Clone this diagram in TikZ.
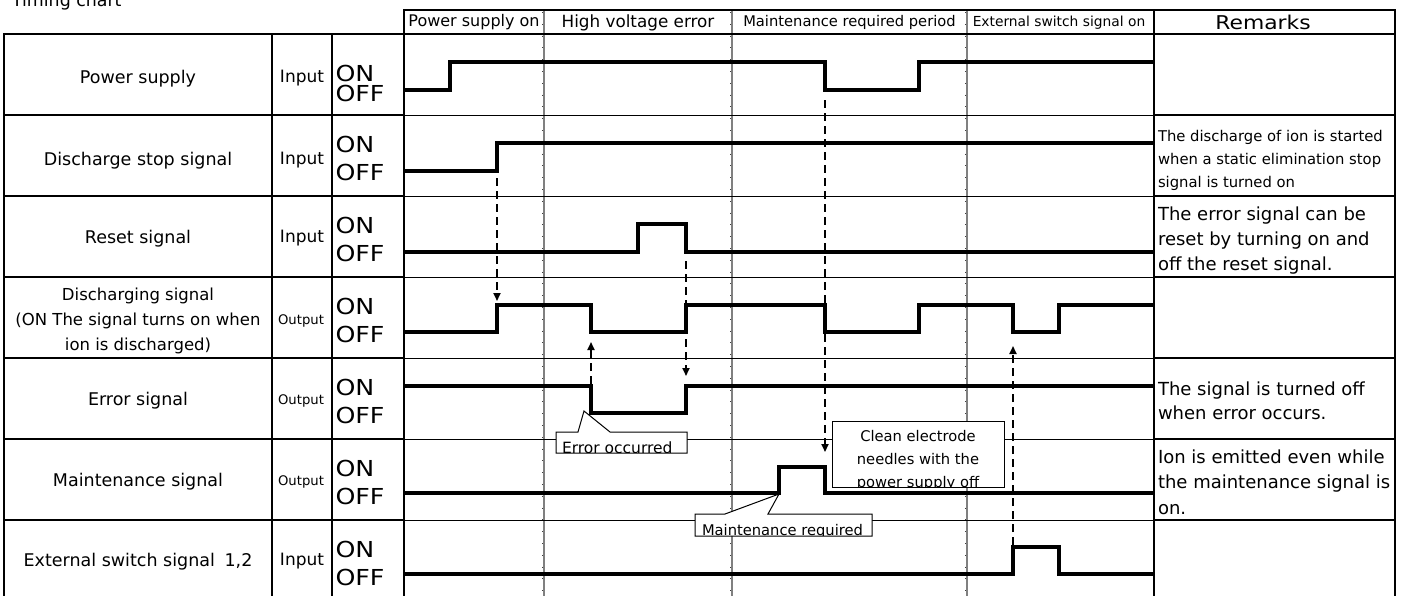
\documentclass[tikz,border=0pt]{standalone}
\usepackage{fontspec}
\setmainfont{DejaVu Sans}
\newfontfamily\widefont{DejaVu Sans}[FakeStretch=1.15]
\usetikzlibrary{arrows.meta}
\newcommand\setfs[2]{\fontsize{#1}{#2}\selectfont}
\begin{document}
\begin{tikzpicture}[x=1pt,y=-1pt,
  every node/.style={inner sep=0pt,outer sep=0pt},
  tbl/.style={line width=2pt},
  thinrule/.style={line width=1pt},
  sig/.style={line width=3.3pt,line join=miter},
  gcol/.style={line width=2pt,draw=black!50},
  gtick/.style={line width=0.8pt,draw=black!75,dash pattern=on 0.8pt off 11pt},
  darrow/.style={line width=1.8pt,dash pattern=on 8pt off 5pt,-{Triangle[length=8pt,width=7pt]}},
  lbl/.style={font=\setfs{17.5}{25.3},align=center},
  lblm/.style={font=\setfs{16.5}{25.3},align=center},
  inp/.style={font=\setfs{17}{20}},
  outp/.style={font=\setfs{13.2}{16}},
  onoff/.style={font=\widefont\setfs{22}{24},anchor=west},
  rem/.style={align=left,anchor=west},
  callout/.style={draw,line width=1pt,fill=white},
  cotext/.style={font=\setfs{14.7}{23}},
]
\useasboundingbox (0,0) rectangle (1405,595);
\clip (0,0) rectangle (1405,595);

% title
\node[anchor=base west,font=\setfs{17.4}{20}] (title) at (12,6) {Timing chart};

% gray period columns
\foreach \gx in {544,732,967}{
  \draw[gcol] (\gx,10) -- (\gx,601);
  \draw[gtick] (\gx-1.2,12) -- (\gx-1.2,601);
}

% timing-area thin row rules
\foreach \ry in {115,196,277,358,439,520}{
  \draw[thinrule] (404,\ry) -- (1154,\ry);
}
% header bottom across timing
\draw[line width=1.5pt] (404,34) -- (1154,34);

% label area and remarks rules
\foreach \ry in {34,115,196,277,358,439,520}{
  \draw[tbl] (4,\ry) -- (404,\ry);
  \draw[tbl] (1154,\ry) -- (1395,\ry);
}
\draw[tbl] (404,10) -- (1395,10);
\draw[tbl] (4,33) -- (4,601);
\draw[tbl] (272,33) -- (272,601);
\draw[tbl] (332,33) -- (332,601);
\draw[tbl] (404,9) -- (404,601);
\draw[tbl] (1154,9) -- (1154,601);
\draw[tbl] (1395,9) -- (1395,601);

% header texts
\node[font=\setfs{16}{20}] (h1) at (474,22.5) {Power supply on};
\node[font=\setfs{16.8}{20}] (h2) at (638,22.5) {High voltage error};
\node[font=\setfs{14.7}{20}] (h3) at (849.5,22.5) {Maintenance required period};
\node[font=\setfs{13.8}{20}] (h4) at (1059,22.5) {External switch signal on};
\node[font=\widefont\setfs{19}{20}] (h5) at (1263,22.5) {Remarks};

% signal labels
\node[lbl] (l1) at (138,78.5) {Power supply};
\node[lbl] (l2) at (138,160.5) {Discharge stop signal};
\node[lbl] (l3) at (138,238.5) {Reset signal};
\node[lblm] (l4) at (138,321) {Discharging signal\\(ON The signal turns on when\\ion is discharged)};
\node[lbl] (l5) at (138,401) {Error signal};
\node[lbl] (l6) at (138,481.5) {Maintenance signal};
\node[lbl] (l7) at (138,561.5) {External switch signal\hspace{0.55em}1,2};

% input/output
\node[inp] (io1) at (302,78.5) {Input};
\node[inp] (io2) at (302,160) {Input};
\node[inp] (io3) at (302,238.5) {Input};
\node[outp] (io4) at (301,321) {Output};
\node[outp] (io5) at (301,401) {Output};
\node[outp] (io6) at (301,481.5) {Output};
\node[inp] (io7) at (302,561.5) {Input};

% ON / OFF
\node[onoff] (on1) at (335.5,73) {ON};
\node[onoff] (off1) at (335.5,93.5) {OFF};
\foreach \t [count=\k from 2] in {115,196,277,358,439,520}{
  \node[onoff] (on\k) at (335.5,\t+29) {ON};
  \node[onoff] (off\k) at (335.5,\t+57) {OFF};
}

% remarks
\node[rem,font=\setfs{14.8}{23}] (r2) at (1158,160.5) {The discharge of ion is started\\when a static elimination stop\\signal is turned on};
\node[rem,font=\setfs{18}{25}] (r3) at (1158,241) {The error signal can be\\reset by turning on and\\off the reset signal.};
\node[rem,font=\setfs{18}{24}] (r5) at (1158,401) {The signal is turned off\\when error occurs.};
\node[rem,font=\setfs{18}{25.5}] (r6) at (1158,482) {Ion is emitted even while\\the maintenance signal is\\on.};

% waveforms
\draw[sig] (404,90) -- (450,90) -- (450,62) -- (825,62) -- (825,90) -- (919,90) -- (919,62) -- (1154,62);
\draw[sig] (404,171) -- (497,171) -- (497,143) -- (1154,143);
\draw[sig] (404,252) -- (638,252) -- (638,224) -- (686,224) -- (686,252) -- (1154,252);
\draw[sig] (404,332) -- (497,332) -- (497,305) -- (591,305) -- (591,332) -- (686,332) -- (686,305) -- (825,305) -- (825,332) -- (919,332) -- (919,305) -- (1013,305) -- (1013,332) -- (1059,332) -- (1059,305) -- (1154,305);
\draw[sig] (404,386) -- (591,386) -- (591,413) -- (686,413) -- (686,386) -- (1154,386);
\draw[sig] (404,493) -- (779,493) -- (779,467) -- (825,467) -- (825,493) -- (1154,493);
\draw[sig] (404,574) -- (1013,574) -- (1013,547) -- (1059,547) -- (1059,574) -- (1154,574);

% dashed cause arrows
\coordinate (a1s) at (497,178); \coordinate (a1e) at (497,301);
\coordinate (a2s) at (686,261); \coordinate (a2e) at (686,376);
\coordinate (a3s) at (591,384); \coordinate (a3e) at (591,342);
\coordinate (a4s) at (825,100); \coordinate (a4e) at (825,452);
\coordinate (a5s) at (1013,545); \coordinate (a5e) at (1013,346);
\draw[darrow] (a1s) -- (a1e);
\draw[darrow] (a2s) -- (a2e);
\draw[darrow] (a3s) -- (a3e);
\draw[darrow] (a4s) -- (a4e);
\draw[darrow] (a5s) -- (a5e);

% callouts
\path[callout] (556,432) -- (578,432) -- (584,411) -- (610,432) -- (687,432) -- (687,453) -- (556,453) -- cycle;
\begin{scope}
  \clip (556.5,432.5) rectangle (686.5,452.5);
  \node[cotext,font=\setfs{15.5}{20},anchor=base west] (eo) at (562,453.5) {Error occurred};
\end{scope}

\path[callout] (695,514) -- (725,514) -- (779,494) -- (768,514) -- (872,514) -- (872,536) -- (695,536) -- cycle;
\begin{scope}
  \clip (695.5,514.5) rectangle (871.5,535.5);
  \node[cotext,anchor=base west] (mr) at (702,535) {Maintenance required};
\end{scope}

\path[callout] (832,421) rectangle (1004,487);
\begin{scope}
  \clip (832.5,421.5) rectangle (1003.5,486.5);
  \node[cotext,align=center,anchor=north] (ce) at (918,430) {Clean electrode\\needles with the\\power supply off};
\end{scope}
\end{tikzpicture}
\end{document}
